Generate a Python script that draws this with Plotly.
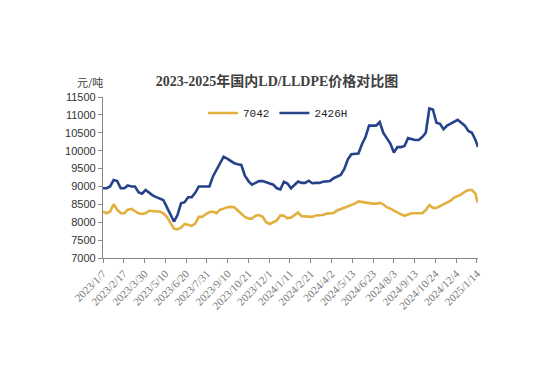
import pandas as pd
import plotly.graph_objects as go

# Weekly readings starting 2023/1/7, plus final points
dates = list(pd.date_range("2023-01-07", periods=106, freq="7D").strftime("%Y-%m-%d")) + ["2025-01-14", "2025-01-16"]

price_2426h = [
    8950, 8950, 9000, 9180, 9150, 8950, 8950, 9030, 9000, 9000,
    8840, 8800, 8900, 8820, 8750, 8700, 8650, 8620, 8420, 8220,
    8020, 8200, 8530, 8560, 8700, 8700, 8820, 9000, 9000, 9000,
    9000, 9280, 9450, 9650, 9830, 9780, 9720, 9650, 9620, 9600,
    9300, 9150, 9050, 9100, 9150, 9150, 9110, 9090, 9050, 8950,
    8920, 9130, 9080, 8950, 9050, 9140, 9100, 9100, 9160, 9090,
    9100, 9100, 9130, 9150, 9150, 9230, 9280, 9320, 9480, 9750,
    9900, 9900, 9920, 10180, 10380, 10700, 10700, 10700, 10800, 10500,
    10350, 10200, 9950, 10100, 10100, 10130, 10350, 10320, 10300, 10300,
    10380, 10500, 11180, 11150, 10780, 10750, 10600, 10700, 10750, 10800,
    10860, 10780, 10700, 10550, 10500, 10300, 10200, 10100,
]

price_7042 = [
    8300, 8250, 8300, 8500, 8350, 8250, 8250, 8350, 8370, 8320,
    8250, 8230, 8250, 8320, 8300, 8300, 8300, 8250, 8150, 8000,
    7820, 7800, 7850, 7950, 7920, 7900, 7960, 8150, 8150, 8230,
    8280, 8300, 8250, 8350, 8380, 8420, 8430, 8420, 8330, 8250,
    8150, 8100, 8100, 8180, 8200, 8150, 8000, 7950, 8000, 8050,
    8190, 8180, 8110, 8130, 8200, 8270, 8170, 8160, 8170, 8150,
    8190, 8200, 8200, 8240, 8250, 8260, 8330, 8370, 8400, 8430,
    8470, 8520, 8580, 8560, 8550, 8520, 8520, 8520, 8540, 8500,
    8420, 8380, 8320, 8260, 8220, 8180, 8220, 8250, 8250, 8250,
    8250, 8340, 8480, 8400, 8400, 8450, 8500, 8550, 8600, 8690,
    8730, 8780, 8850, 8900, 8900, 8800, 8620, 8550,
]

tick_dates = ["2023-01-07", "2023-02-17", "2023-03-30", "2023-05-10", "2023-06-20",
              "2023-07-31", "2023-09-10", "2023-10-21", "2023-12-01", "2024-01-11",
              "2024-02-21", "2024-04-02", "2024-05-13", "2024-06-23", "2024-08-03",
              "2024-09-13", "2024-10-24", "2024-12-04", "2025-01-14"]
tick_labels = ["2023/1/7", "2023/2/17", "2023/3/30", "2023/5/10", "2023/6/20",
               "2023/7/31", "2023/9/10", "2023/10/21", "2023/12/1", "2024/1/11",
               "2024/2/21", "2024/4/2", "2024/5/13", "2024/6/23", "2024/8/3",
               "2024/9/13", "2024/10/24", "2024/12/4", "2025/1/14"]

# page body has an 8px offset; figure coordinates below compensate for it
OFF = 8
W, H = 541, 371
PL, PR, PT, PB = 103 - OFF, 478 - OFF, 97 - OFF, 258 - OFF

fig = go.Figure()
fig.add_trace(go.Scatter(x=dates, y=price_7042, mode="lines", name="7042",
                         line=dict(color="#E2B03E", width=2.6)))
fig.add_trace(go.Scatter(x=dates, y=price_2426h, mode="lines", name="2426H",
                         line=dict(color="#25428A", width=2.6)))

fig.update_layout(
    width=W, height=H,
    margin=dict(l=PL, r=W - PR, t=PT, b=H - PB, pad=0),
    paper_bgcolor="white", plot_bgcolor="white",
    title=dict(text="<b>2023-2025年国内LD/LLDPE价格对比图</b>",
               x=(277 - OFF) / W, xref="container", xanchor="center",
               y=1 - (81 - OFF) / H, yref="container", yanchor="middle",
               font=dict(family="Liberation Serif, Noto Sans CJK SC", size=14, color="#404040")),
    showlegend=True,
    legend=dict(orientation="h", x=(203 - 103) / 375, xanchor="left",
                y=(258 - 113) / 161, yanchor="middle",
                bgcolor="rgba(0,0,0,0)", font=dict(family="Liberation Mono, DejaVu Sans Mono", size=11, color="#222"),
                itemwidth=30, tracegroupgap=0),
    font=dict(family="Liberation Sans, Noto Sans CJK SC"),
)

fig.update_xaxes(
    type="date", range=["2023-01-07", "2025-01-16"],
    tickvals=tick_dates, ticktext=tick_labels, tickangle=-45,
    ticks="outside", ticklen=4, tickcolor="#888",
    showline=True, linecolor="#888", linewidth=1.2, showgrid=False, zeroline=False,
    tickfont=dict(family="Liberation Serif, DejaVu Serif", size=11, color="#777"),
)
fig.update_yaxes(
    range=[7000, 11500], dtick=500, tick0=7000, tickformat="d",
    ticks="outside", ticklen=4, tickcolor="#888",
    showline=True, linecolor="#888", linewidth=1.2, showgrid=False, zeroline=False,
    tickfont=dict(family="Liberation Sans", size=11, color="#333"),
)

fig.add_annotation(text="元/吨", xref="paper", yref="paper",
                   x=(90 - 103) / 375, y=(258 - 82) / 161, showarrow=False,
                   xanchor="center", yanchor="middle", height=13, borderpad=0,
                   font=dict(family="Noto Sans CJK SC", size=11, color="#404040"))

fig.write_html("out.html")
